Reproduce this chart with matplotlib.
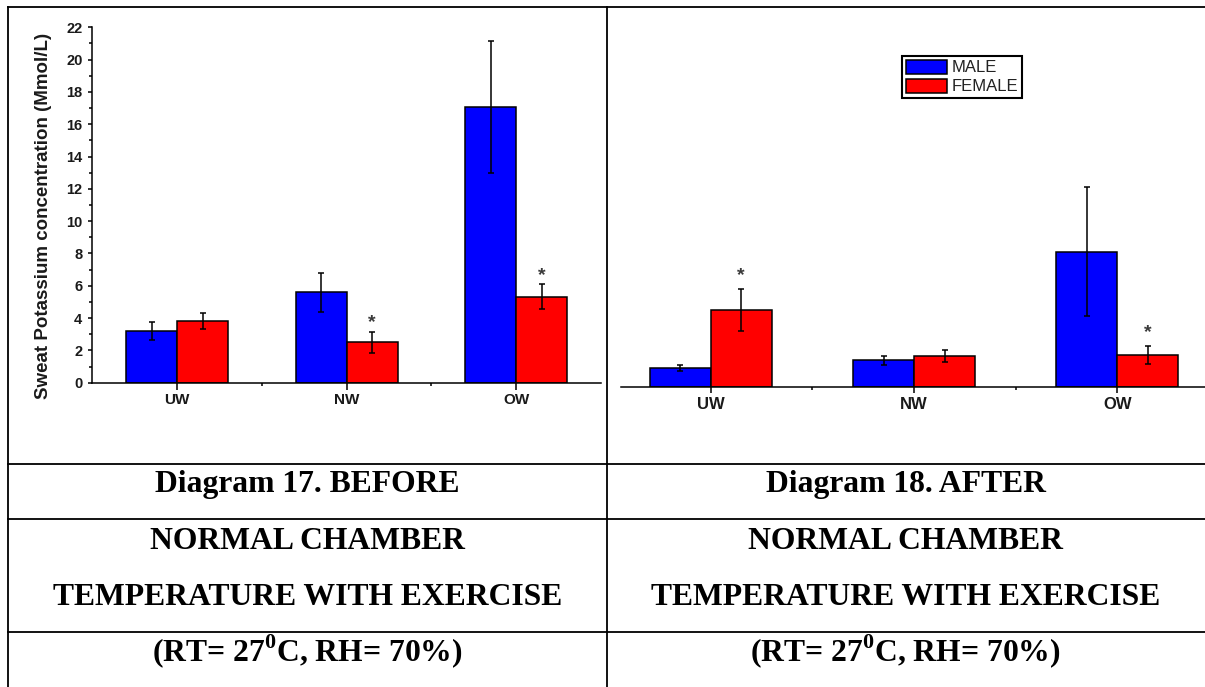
import numpy as np
import matplotlib
matplotlib.use('Agg')
import matplotlib.pyplot as plt
from matplotlib.lines import Line2D
from matplotlib.patches import Patch

plt.rcParams['font.family'] = ['Liberation Sans', 'DejaVu Sans']
plt.rcParams['mathtext.fontset'] = 'custom'
plt.rcParams['mathtext.rm'] = 'Liberation Serif:bold'
plt.rcParams['mathtext.bf'] = 'Liberation Serif:bold'

# data
categories = ['UW', 'NW', 'OW']

before_male = [3.2, 5.6, 17.05]
before_male_err = [0.55, 1.2, 4.08]
before_female = [3.82, 2.5, 5.33]
before_female_err = [0.52, 0.66, 0.75]
before_sig = [False, True, True]

after_male = [1.18, 1.63, 8.36]
after_male_err = [0.19, 0.28, 3.99]
after_female = [4.75, 1.9, 1.96]
after_female_err = [1.31, 0.37, 0.56]
after_sig = [True, False, True]

W, H = 1205, 687
fig = plt.figure(figsize=(W / 100, H / 100), dpi=100)


def box(left, top, right, bottom):
    return [left / W, 1 - bottom / H, (right - left) / W, (bottom - top) / H]


def draw_panel(ax, male, male_err, female, female_err, sig, star_off, lab_size, lab_pad, tick_len):
    x = np.arange(1, len(categories) + 1)
    w = 0.3
    ax.bar(x - w / 2, male, w, color='#0000ff', edgecolor='black', linewidth=1.1, label='MALE')
    ax.bar(x + w / 2, female, w, color='#ff0000', edgecolor='black', linewidth=1.1, label='FEMALE')
    ax.errorbar(x - w / 2, male, yerr=male_err, fmt='none', ecolor='black',
                elinewidth=1.1, capsize=2.4, capthick=1.1)
    ax.errorbar(x + w / 2, female, yerr=female_err, fmt='none', ecolor='black',
                elinewidth=1.1, capsize=2.4, capthick=1.1)
    for xi, f, e, s in zip(x, female, female_err, sig):
        if s:
            ax.annotate('*', (xi + w / 2, f + e), xytext=(0, star_off), textcoords='offset points',
                        ha='center', va='baseline', fontsize=14, fontweight='bold', color='#3a3a3a')
    ax.set_xticks(x)
    ax.set_xticklabels(categories, fontsize=lab_size, fontweight='bold', color='#1a1a1a')
    ax.set_xticks(x[:-1] + 0.5, minor=True)
    ax.tick_params(axis='x', which='major', direction='out', length=tick_len, width=1.1, pad=lab_pad)
    ax.tick_params(axis='x', which='minor', direction='out', length=2, width=1.1)
    ax.set_ylim(0, 22)
    for s in ['top', 'right']:
        ax.spines[s].set_visible(False)
    ax.spines['bottom'].set_linewidth(1.1)
    ax.spines['left'].set_linewidth(1.1)


# left panel: before
ax1 = fig.add_axes(box(92.3, 27.3, 601, 382.7))
draw_panel(ax1, before_male, before_male_err, before_female, before_female_err,
           before_sig, 3.4, 11, 2.5, 4.8)
ax1.set_xlim(0.5, 3.5)
ax1.set_yticks(np.arange(0, 23, 2))
ax1.set_yticks(np.arange(1, 22, 2), minor=True)
ax1.tick_params(axis='y', which='major', direction='out', length=3.1, width=1.1, pad=4.0,
                labelsize=10.5)
ax1.tick_params(axis='y', which='minor', direction='out', length=2.2, width=1.1)
for t in ax1.get_yticklabels():
    t.set_fontweight('bold')
    t.set_color('#1a1a1a')
fig.text(44 / W, 1 - 216 / H, 'Sweat Potassium concentration (Mmol/L)', rotation=90,
         ha='center', va='center', fontsize=13.5, fontweight='bold', color='#1a1a1a')

# right panel: after (no y axis shown)
ax2 = fig.add_axes(box(621, 31.3, 1205, 386.7))
draw_panel(ax2, after_male, after_male_err, after_female, after_female_err,
           after_sig, 6.6, 12, 3, 4.3)
ax2.set_xlim(0.559, 3.431)
ax2.spines['left'].set_visible(False)
ax2.set_yticks([])

handles = [Patch(facecolor='#0000ff', edgecolor='black', linewidth=1.1),
           Patch(facecolor='#ff0000', edgecolor='black', linewidth=1.1)]
leg = ax2.legend(handles, ['MALE', 'FEMALE'], loc='upper left',
                 bbox_to_anchor=(902.3 / W, 1 - 56 / H), bbox_transform=fig.transFigure,
                 borderaxespad=0, fancybox=False, edgecolor='black', framealpha=1,
                 fontsize=12, handlelength=2.45, handleheight=0.9, borderpad=0.22,
                 labelspacing=0.2, handletextpad=0.3)
leg.get_frame().set_linewidth(1.5)
for t in leg.get_texts():
    t.set_color('#222222')

# table grid
lw = 1.3
def hline(y, x0=7.8, x1=W):
    fig.add_artist(Line2D([x0 / W, x1 / W], [1 - y / H, 1 - y / H], color='black', lw=lw,
                          transform=fig.transFigure))


def vline(x, y0=7.3, y1=H):
    fig.add_artist(Line2D([x / W, x / W], [1 - y0 / H, 1 - y1 / H], color='black', lw=lw,
                          transform=fig.transFigure))


hline(7.3)
for y in [464.3, 519.3, 631.7]:
    hline(y)
vline(7.8)
vline(606.5)

# captions
rows_left = ['Diagram 17. BEFORE', 'NORMAL CHAMBER', 'TEMPERATURE WITH EXERCISE',
             r'(RT= 27$^{0}$C, RH= 70%)']
rows_right = ['Diagram 18. AFTER', 'NORMAL CHAMBER', 'TEMPERATURE WITH EXERCISE',
              r'(RT= 27$^{0}$C, RH= 70%)']
baselines = [491.7, 549, 605, 661.7]
for base, tl, tr in zip(baselines, rows_left, rows_right):
    for cx, t in [(307.2, tl), (905.8, tr)]:
        fig.text(cx / W, 1 - base / H, t, ha='center', va='baseline', fontsize=22.8,
                 fontweight='bold', family='Liberation Serif', color='black')

fig.savefig('out.png', dpi=100)
